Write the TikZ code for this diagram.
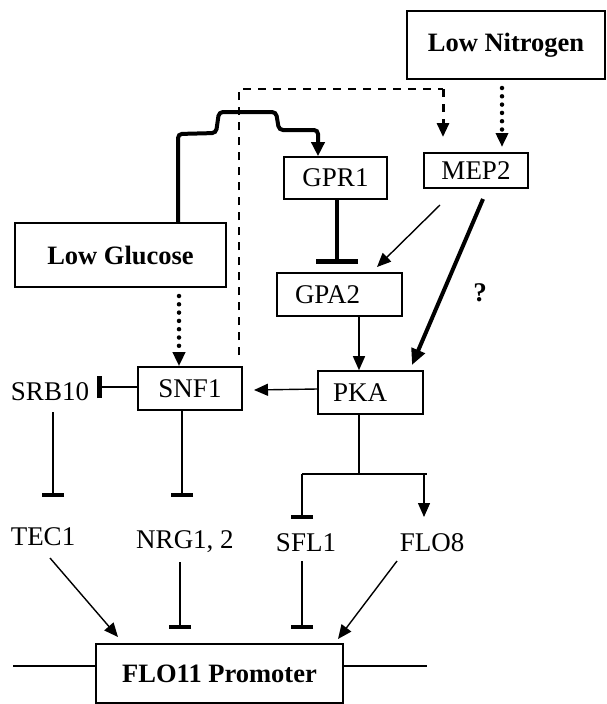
\documentclass[tikz,border=0pt]{standalone}
\usepackage{fontspec}
\setmainfont{Liberation Serif}
\usetikzlibrary{arrows.meta}
\begin{document}
\begin{tikzpicture}[x=1pt,y=-1pt,
  box/.style={draw,line width=1.6pt,inner sep=0pt,font=\fontsize{27}{31}\selectfont},
  bbox/.style={box,font=\fontsize{26.5}{30}\selectfont\bfseries},
  lbl/.style={inner sep=0pt,font=\fontsize{27}{31}\selectfont},
  thin/.style={line width=1.4pt},
  thick2/.style={line width=4pt},
  act/.style={-{Triangle[length=14pt,width=12pt]}},
  inh/.style={-{Bar[width=22pt,line width=4.5pt]}},
  dots/.style={line width=4.5pt,line cap=round,dash pattern=on 0pt off 8.3pt},
  dsh/.style={line width=2pt,dash pattern=on 8pt off 7pt}]
\useasboundingbox (0,0) rectangle (607,704);
% boxes
\node[bbox,minimum width=198pt,minimum height=68pt] (LN) at (506,45) {Low Nitrogen};
\node[bbox,minimum width=211pt,minimum height=64pt] (LG) at (120.5,255) {Low Glucose};
\node[box,minimum width=103pt,minimum height=42pt] (GPR1) at (335.5,178) {GPR1};
\node[box,minimum width=104pt,minimum height=35pt] (MEP2) at (476,170.5) {MEP2};
\node[box,minimum width=125pt,minimum height=43pt,text width=115pt,align=left] (GPA2) at (339.5,294.5) {\hspace*{13pt}GPA2};
\node[box,minimum width=104pt,minimum height=43pt] (SNF1) at (190,388.5) {SNF1};
\node[box,minimum width=105pt,minimum height=43pt,text width=95pt,align=left] (PKA) at (370.5,392.5) {\hspace*{10pt}PKA};
\node[bbox,minimum width=247pt,minimum height=59pt] (FLO11) at (219.5,673.5) {FLO11 Promoter};
% labels
\node[lbl] (SRB10) at (50,392) {SRB10};
\node[lbl] (TEC1) at (43,537) {TEC1};
\node[lbl] (NRG) at (185,542) {NRG1, 2};
\node[lbl] (SFL1) at (306,543) {SFL1};
\node[lbl] (FLO8) at (432,543) {FLO8};
\node[lbl,font=\fontsize{27}{31}\selectfont\bfseries] (Q) at (480,293) {?};
% free ends
\coordinate (dA) at (239,355);
\coordinate (dB) at (443,89);
\coordinate (dC) at (443,137);
\coordinate (nA) at (502,88);
\coordinate (nB) at (502,147);
\coordinate (gA) at (178,134);
\coordinate (pB) at (359,474);
\coordinate (pL) at (302,474);
\coordinate (pR) at (424,474);
% Low Nitrogen signals
\draw[dsh] (dA) |- (dB);
\draw[line width=3pt,dash pattern=on 8pt off 7pt,act] (dB) -- (dC);
\draw[dots,act] (nA) -- (nB);
% Low Glucose to GPR1
\draw[thick2,rounded corners=4pt,-{Triangle[length=14pt,width=13pt]}]
  (LG.north -| gA) -- (gA) -- (216,133) -- (219,112) -- (276,112) -- (279,130) -- (318,130) -- (GPR1.north -| 318,0);
% Low Glucose to SNF1
\draw[dots,act] (179,296) -- (SNF1.north -| 179,0);
% GPR1 -| GPA2
\draw[thick2,-{Bar[width=42pt,line width=5pt]}] (GPR1.south -| 337,0) -- (337,264);
% MEP2 -> GPA2 / PKA
\draw[thin,act] (440,205) -- (377,267);
\draw[thick2,-{Triangle[length=16pt,width=14pt]}] (483,199) -- (412,365);
% GPA2 -> PKA
\draw[thin,act] (GPA2.south -| 359,0) -- (PKA.north -| 359,0);
% PKA -> SNF1
\draw[thin,act] (PKA.west |- 0,389) -- (254,390);
% SNF1 -| SRB10
\draw[thin,inh] (SNF1.west |- 0,387) -- (97,387);
% SRB10 -| TEC1, SNF1 -| NRG
\draw[thin,inh] (53,412) -- (53,497);
\draw[thin,inh] (SNF1.south -| 182,0) -- (182,497);
% PKA branches
\draw[thin] (PKA.south -| pB) -- (pB);
\draw[thin] (pL) -- (427,474);
\draw[thin,inh] (pL) -- (302,519);
\draw[thin,act] (pR) -- (424,517);
% to FLO11 promoter
\draw[thin,act] (50,558) -- (118,637);
\draw[thin,inh] (180,562) -- (180,629);
\draw[thin,inh] (302,561) -- (302,629);
\draw[thin,act] (397,561) -- (338,639);
\draw[thin] (13,666) -- (FLO11.west |- 0,666);
\draw[thin] (FLO11.east |- 0,666) -- (427,666);
\end{tikzpicture}
\end{document}
